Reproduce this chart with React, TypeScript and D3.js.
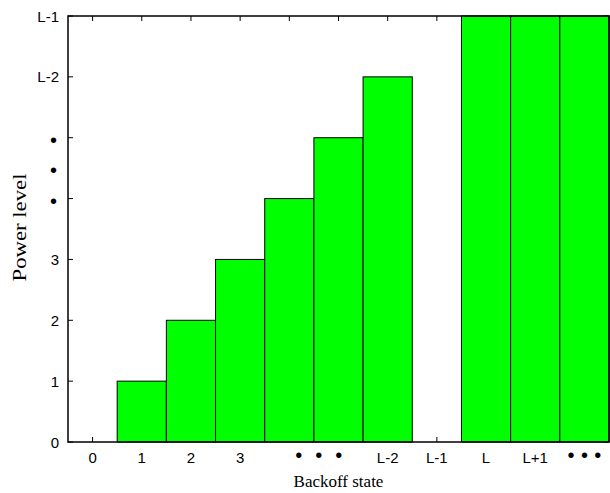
import React from "react";
import * as d3 from "d3";

const slots = [0, 1, 2, 3, 4, 5, 6, 7, 8, 9, 10];
const barValues = [0, 1, 2, 3, 4, 5, 6, 0, 7, 7, 7];
const xTickPos = [0, 1, 2, 3, 4.6, 6, 7, 8, 9, 10];
const xTickLabels = ["0", "1", "2", "3", "• • •", "L-2", "L-1", "L", "L+1", "• • •"];
const yLabelPos = [0, 1, 2, 3, 4, 4.5, 5, 6, 7];
const yLabels = ["0", "1", "2", "3", "•", "•", "•", "L-2", "L-1"];
const yTicks = [0, 1, 2, 3, 4, 5, 6, 7];

export default function App() {
  const W = 610, H = 493;
  const left = 68, right = 609, top = 16, bottom = 442;
  const x = d3.scaleLinear().domain([-0.5, 10.5]).range([left, right]);
  const y = d3.scaleLinear().domain([0, 7]).range([bottom, top]);
  const bw = x(1) - x(0);
  const sans = "'Liberation Sans', Arial, sans-serif";
  const serif = "'Liberation Serif', 'Times New Roman', serif";
  const isDots = (s: string) => s.indexOf("•") >= 0;
  return (
    <svg width={W} height={H} style={{ position: "absolute", left: 0, top: 0, background: "#fff" }}>
      {/* ticks */}
      {slots.map((s) => (
        <g key={"xt" + s}>
          <line x1={x(s)} x2={x(s)} y1={bottom} y2={bottom - 5} stroke="#000" strokeWidth={1} />
          <line x1={x(s)} x2={x(s)} y1={top} y2={top + 5} stroke="#000" strokeWidth={1} />
        </g>
      ))}
      {yTicks.map((t) => (
        <g key={"yt" + t}>
          <line x1={left} x2={left + 5} y1={y(t)} y2={y(t)} stroke="#000" strokeWidth={1} />
          <line x1={right} x2={right - 5} y1={y(t)} y2={y(t)} stroke="#000" strokeWidth={1} />
        </g>
      ))}
      {/* bars */}
      {slots.map((s, i) =>
        barValues[i] > 0 ? (
          <rect
            key={"b" + s}
            x={x(s) - bw / 2}
            y={y(barValues[i])}
            width={bw}
            height={y(0) - y(barValues[i])}
            fill="#00ff00"
            stroke="#000"
            strokeWidth={1}
          />
        ) : null
      )}
      {/* frame */}
      <rect x={left} y={top} width={right - left} height={bottom - top} fill="none" stroke="#000" strokeWidth={1.5} />
      {/* x labels */}
      {xTickPos.map((p, i) => {
        const lab = xTickLabels[i];
        const dots = isDots(lab);
        return (
          <text
            key={"xl" + i}
            x={x(p)}
            y={dots ? 462 : 463}
            textAnchor="middle"
            fontFamily={sans}
            fontSize={dots ? 20 : 15}
            wordSpacing={dots ? (p < 5 ? 7.4 : 0.8) : 0}
            style={{ whiteSpace: "pre" }}
          >
            {lab}
          </text>
        );
      })}
      {yLabelPos.map((p, i) => {
        const lab = yLabels[i];
        const dots = isDots(lab);
        return (
          <text
            key={"yl" + i}
            x={dots ? 57 : 59}
            y={y(p) + (dots ? 9 : 5.5)}
            textAnchor="end"
            fontFamily={sans}
            fontSize={dots ? 20 : 15}
          >
            {lab}
          </text>
        );
      })}
      <text x={338.5} y={487} textAnchor="middle" fontFamily={serif} fontSize={17}>
        Backoff state
      </text>
      <text
        transform={`translate(26,227.5) rotate(-90)`}
        textAnchor="middle"
        fontFamily={serif}
        fontSize={19.5}
        textLength={108}
        lengthAdjust="spacingAndGlyphs"
      >
        Power level
      </text>
    </svg>
  );
}
